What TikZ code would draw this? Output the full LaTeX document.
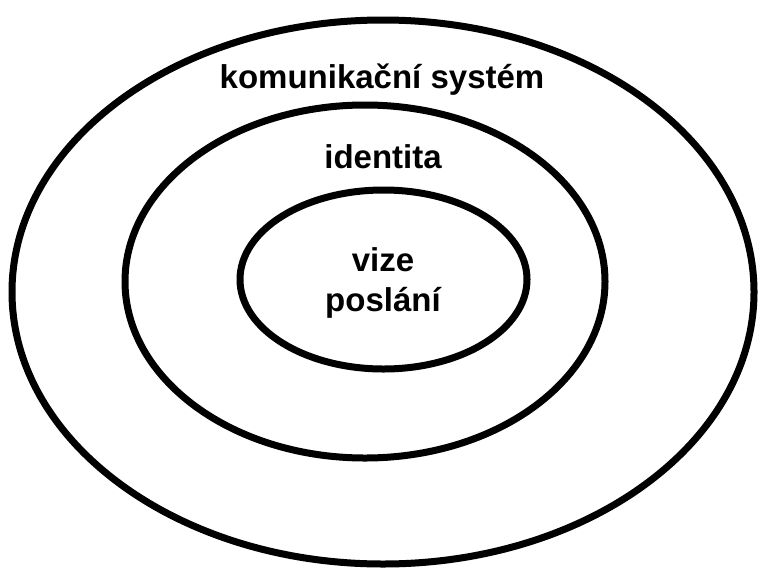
\documentclass[tikz,border=0pt]{standalone}
\usepackage{fontspec}
\setmainfont{Liberation Sans}
\begin{document}
\begin{tikzpicture}[x=1pt,y=-1pt,
  ring/.style={draw=black,line width=7pt},
  lbl/.style={anchor=base,inner sep=0pt,font=\fontsize{33}{40}\selectfont\bfseries}]
\useasboundingbox[fill=white] (0,0) rectangle (762,568);
\draw[ring] (383,292) ellipse [x radius=371,y radius=272];
\draw[ring] (365,281.5) ellipse [x radius=240,y radius=176.5];
\draw[ring] (383.5,279.5) ellipse [x radius=143.5,y radius=89.5];
\node[lbl] (kom) at (382,88) {komunikační systém};
\node[lbl] (ide) at (383,168) {identita};
\node[lbl] (viz) at (383,271) {vize};
\node[lbl] (pos) at (383,311) {poslání};
\end{tikzpicture}
\end{document}
